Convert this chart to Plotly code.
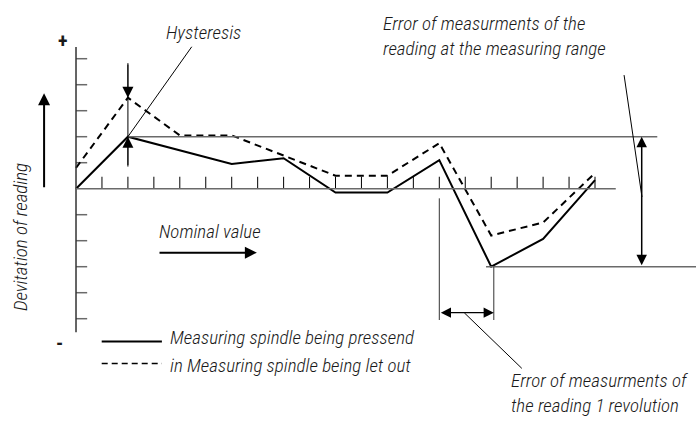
import plotly.graph_objects as go

# Nominal positions of the readings (scale divisions)
nominal_pressed = [0, 2, 6, 8, 10, 12, 14, 16, 18, 20]
dev_pressed = [0, 2, 0.95, 1.17, -0.15, -0.15, 1.1, -3.0, -1.93, 0.33]

nominal_let_out = [0, 2, 4, 6, 10, 12, 14, 16, 18, 20]
dev_let_out = [0.8, 3.5, 2.05, 2.05, 0.5, 0.5, 1.75, -1.8, -1.3, 0.6]

# Scale divisions
x_ticks = list(range(1, 21))
y_ticks = [-5, -4, -3, -2, -1, 1, 2, 3, 4, 5]

FONT = "Liberation Sans Narrow, Roboto Condensed, Arial Narrow, Roboto, sans-serif"
TXT = "#1a1a1a"
GRAY = "#6a6a6a"

fig = go.Figure()

# y-axis scale ticks
tx, ty = [], []
for v in y_ticks:
    tx += [0, 0.43, None]
    ty += [v, v, None]
fig.add_trace(go.Scatter(x=tx, y=ty, mode="lines", line=dict(color=GRAY, width=1.5),
                         hoverinfo="skip", showlegend=False))

# x-axis scale ticks
tx, ty = [], []
for v in x_ticks:
    tx += [v, v, None]
    ty += [0, 0.46, None]
fig.add_trace(go.Scatter(x=tx, y=ty, mode="lines", line=dict(color="#000", width=1),
                         hoverinfo="skip", showlegend=False))

# axes
fig.add_shape(type="line", x0=0, x1=0, y0=-5.52, y1=5.45, line=dict(color="#333", width=1.5))
fig.add_shape(type="line", x0=0, x1=20.8, y0=0, y1=0, line=dict(color=GRAY, width=1.5))

top = max(dev_pressed)
bottom = min(dev_pressed)
i_top = dev_pressed.index(top)
i_bot = dev_pressed.index(bottom)

# limits of the reading error band
fig.add_shape(type="line", x0=nominal_pressed[i_top], x1=22.4, y0=top, y1=top,
              line=dict(color=GRAY, width=1.5))
fig.add_shape(type="line", x0=nominal_pressed[i_bot] - 0.2, x1=24, y0=bottom, y1=bottom,
              line=dict(color=GRAY, width=1.5))

# measurement curves
fig.add_trace(go.Scatter(x=nominal_pressed, y=dev_pressed, mode="lines",
                         line=dict(color="#000", width=2), showlegend=False))
fig.add_trace(go.Scatter(x=nominal_let_out, y=dev_let_out, mode="lines",
                         line=dict(color="#000", width=2, dash="7px,5px"), showlegend=False))


def arrow(x, y, ax, ay, width=1.5, both=False, size=1.0):
    fig.add_annotation(x=x, y=y, ax=ax, ay=ay, xref="x", yref="y", axref="x", ayref="y",
                       showarrow=True, arrowhead=2, arrowsize=size, arrowwidth=width,
                       arrowcolor="#000", text="", standoff=0, startstandoff=0,
                       arrowside="end+start" if both else "end", startarrowhead=2,
                       startarrowsize=size)


# hysteresis marker at the second reading
hx = nominal_pressed[1]
fig.add_shape(type="line", x0=hx, x1=hx, y0=0.85, y1=4.83, line=dict(color="#000", width=1))
arrow(hx, dev_let_out[1], hx, 4.83, width=1, size=2.2)
arrow(hx, dev_pressed[1], hx, 0.85, width=1, size=2.2)
fig.add_shape(type="line", x0=hx, y0=dev_pressed[1], x1=4.46, y1=5.46, line=dict(color="#000", width=1))

# measuring range error
arrow(21.8, top, 21.8, bottom, width=1.5, both=True, size=1.4)
fig.add_shape(type="line", x0=21.12, y0=4.37, x1=21.81, y1=-0.32, line=dict(color="#000", width=1))

# error of one revolution
rx0 = nominal_pressed[i_bot - 1]
rx1 = nominal_pressed[i_bot] + 0.1
fig.add_shape(type="line", x0=rx0, x1=rx0, y0=-0.37, y1=-5.05, line=dict(color="#333", width=1))
fig.add_shape(type="line", x0=rx1, x1=rx1, y0=bottom, y1=-5.05, line=dict(color="#333", width=1))
arrow(rx1, -4.77, rx0, -4.77, width=1.2, both=True, size=1.7)
fig.add_shape(type="line", x0=14.96, y0=-4.77, x1=17.18, y1=-6.91, line=dict(color="#000", width=1))

# direction arrows
arrow(-1.23, 3.67, -1.23, 0, width=2, size=1.2)
arrow(6.97, -2.46, 3.16, -2.46, width=2, size=1.2)

# legend samples
fig.add_shape(type="line", x0=0.99, x1=3.31, y0=-5.88, y1=-5.88, line=dict(color="#000", width=2))
fig.add_shape(type="line", x0=0.99, x1=3.31, y0=-6.72, y1=-6.72,
              line=dict(color="#000", width=1.5, dash="6px,4px"))


def label(x, y, text, size=19, anchor="left", angle=0, italic=True, bold=False):
    fig.add_annotation(x=x, y=y, xref="x", yref="y", text=text, showarrow=False,
                       xanchor=anchor, yanchor="middle", align="left", textangle=angle,
                       font=dict(family=FONT, size=size, color=TXT,
                                 style="italic" if italic else "normal",
                                 weight="bold" if bold else 300))


label(4.92, 5.99, "Hysteresis", anchor="center")
label(11.75, 5.89, "Error of measurments of the<br>reading at the measuring range")
label(3.11, -1.65, "Nominal value")
label(3.55, -5.72, "Measuring spindle being pressend")
label(3.55, -6.81, "in Measuring spindle being let out")
label(16.7, -7.85, "Error of measurments of<br>the reading 1 revolution")
label(-2.16, -1.86, "Devitation of reading", anchor="center", angle=-90)
label(-0.5, 5.69, "+", size=20, anchor="center", italic=False, bold=True)
label(-0.62, -5.92, "-", size=20, anchor="center", italic=False, bold=True)

fig.update_layout(
    width=696, height=426,
    margin=dict(l=0, r=0, t=0, b=0),
    paper_bgcolor="white", plot_bgcolor="white",
    xaxis=dict(range=[-2.929, 23.892], visible=False, fixedrange=True),
    yaxis=dict(range=[-9.127, 7.258], visible=False, fixedrange=True),
    showlegend=False,
)

fig.write_html("out.html")
